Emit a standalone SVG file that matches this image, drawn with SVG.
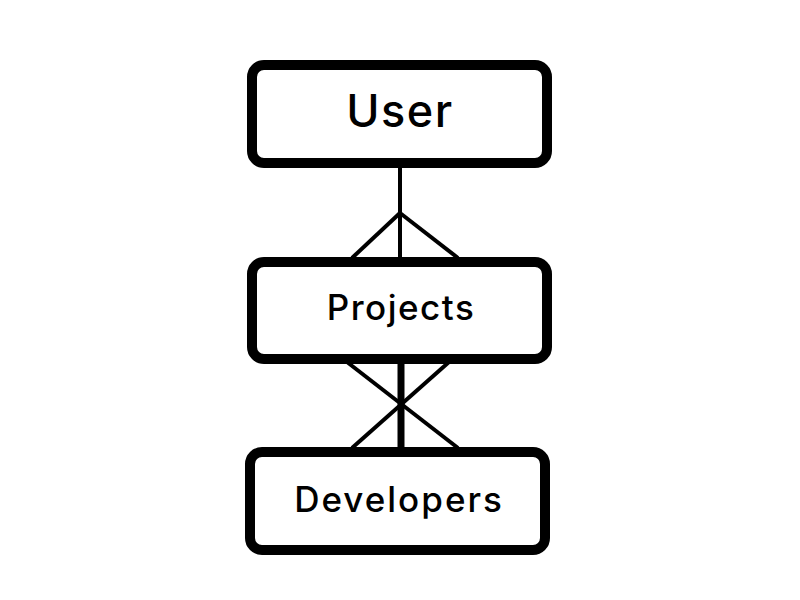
<svg xmlns="http://www.w3.org/2000/svg" width="800" height="600" viewBox="0 0 800 600">
<style>
.box{fill:#fff;stroke:#000;stroke-width:10}
.lbl{font-family:Inter,"Open Sans","Liberation Sans",sans-serif;font-weight:500;fill:#000;text-anchor:middle}
.ln{stroke:#000;stroke-width:4;fill:none}
</style>
<rect width="800" height="600" fill="#fff"/>
<g id="connectors">
<line class="ln" x1="400" y1="166" x2="400" y2="259"/>
<line class="ln" x1="400" y1="213" x2="352" y2="258"/>
<line class="ln" x1="400" y1="213" x2="458" y2="258"/>
<line class="ln" x1="401" y1="362" x2="401" y2="449" style="stroke-width:7"/>
<line class="ln" x1="347" y1="362" x2="458" y2="448"/>
<line class="ln" x1="449" y1="362" x2="352" y2="448"/>
</g>
<g id="user">
<rect class="box" x="252" y="65" width="295" height="98" rx="12"/>
<text class="lbl" x="400" y="127" font-size="45" letter-spacing="1.5">User</text>
</g>
<g id="projects">
<rect class="box" x="252" y="262" width="295" height="97" rx="12"/>
<text class="lbl" x="401" y="320" font-size="35" letter-spacing="1.5">Projects</text>
</g>
<g id="developers">
<rect class="box" x="250" y="452" width="295" height="98" rx="12"/>
<text class="lbl" x="399" y="512" font-size="35" letter-spacing="2">Developers</text>
</g>
</svg>
